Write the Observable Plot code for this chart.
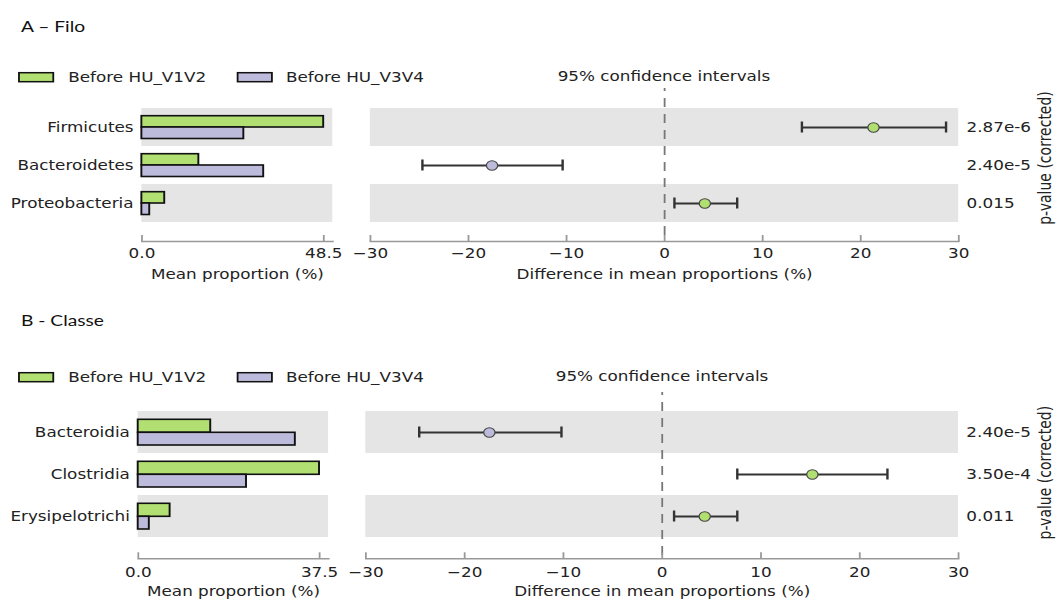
<!DOCTYPE html>
<html><head><meta charset="utf-8">
<script src="https://cdn.jsdelivr.net/npm/d3@7"></script>
<script src="https://cdn.jsdelivr.net/npm/@observablehq/plot@0.6"></script>
<style>
html,body{margin:0;padding:0;background:#fff;overflow:hidden;width:1056px;height:600px}
#stage{position:absolute;left:0;top:0;width:880px;height:600px;transform:scaleX(1.2);transform-origin:0 0;}
</style></head><body><div id="stage"></div>
<script>
// ---------- data ----------
const groups = ["Before HU_V1V2", "Before HU_V3V4"];
const groupColors = ["#b2df72", "#bdbbdb"];

const phyla = ["Firmicutes", "Bacteroidetes", "Proteobacteria"];
const phylaV1V2 = [48.5, 15.2, 6.1];
const phylaV3V4 = [27.2, 32.5, 2.1];
const phylaDiff = [21.3, -17.6, 4.1];
const phylaLow = [14.0, -24.7, 1.0];
const phylaHigh = [28.7, -10.4, 7.4];
const phylaP = ["2.87e-6", "2.40e-5", "0.015"];
const phylaTicks = [0, 48.5];

const classes = ["Bacteroidia", "Clostridia", "Erysipelotrichi"];
const classV1V2 = [15.0, 37.5, 6.6];
const classV3V4 = [32.5, 22.4, 2.3];
const classDiff = [-17.5, 15.2, 4.3];
const classLow = [-24.6, 7.6, 1.2];
const classHigh = [-10.2, 22.8, 7.6];
const classP = ["2.40e-5", "3.50e-4", "0.011"];
const classTicks = [0, 37.5];

const ciTicks = [-30, -20, -10, 0, 10, 20, 30];
const panelTitles = ["A \u2013 Filo", "B - Classe"];
const ciTitle = "95% confidence intervals";
const barAxisLabel = "Mean proportion (%)";
const ciAxisLabel = "Difference in mean proportions (%)";
const pAxisLabel = "p-value (corrected)";

// ---------- layout (unscaled px; stage is stretched 1.2x horizontally) ----------
const panels = [
  {title: panelTitles[0], cats: phyla, a: phylaV1V2, b: phylaV3V4, diff: phylaDiff, lo: phylaLow, hi: phylaHigh, p: phylaP, ticks: phylaTicks,
   L: {titleY: 32, legendY: 81.7, swatchY: 72.7, ciTitleX: 553.3, ciTitleY: 80.7,
       bar: {top: 100, height: 185, left: 117.8, right: 276.9, rows: [8, 122], axis: 141, pad: 7, lab: 37, insA: [7.7, 19], insB: [19, 7.5]},
       ci: {top: 60, height: 225, left: 8.2, right: 498.5, mtop: 28, rows: [48, 162], axis: 181, pad: 7, lab: 37, cap: 13.5, pdy: -7}}},
  {title: panelTitles[1], cats: classes, a: classV1V2, b: classV3V4, diff: classDiff, lo: classLow, hi: classHigh, p: classP, ticks: classTicks,
   L: {titleY: 326, legendY: 381.7, swatchY: 372.7, ciTitleX: 551.7, ciTitleY: 381,
       bar: {top: 400, height: 200, left: 114.75, right: 273.4, rows: [11, 137], axis: 158.3, pad: 8.4, lab: 37, insA: [8.3, 20.7], insB: [21.3, 8]},
       ci: {top: 360, height: 240, left: 4.4, right: 498.3, mtop: 32, rows: [51, 177], axis: 198.3, pad: 8.4, lab: 37, cap: 15.5, pdy: -3}}}
];

const stage = document.getElementById("stage");
const overlay = d3.select(stage).append("svg")
  .attr("width", 880).attr("height", 600)
  .style("position", "absolute").style("left", "0px").style("top", "0px")
  .style("font-family", "'DejaVu Sans', sans-serif").style("font-size", "14px");

function place(node, left, top) {
  node.style.position = "absolute";
  node.style.left = left + "px";
  node.style.top = top + "px";
  node.style.maxWidth = "none";
  node.style.overflow = "visible";
  stage.appendChild(node);
}

const W_BAR = 290, W_CI = 580;
const baseStyle = {fontFamily: "'DejaVu Sans', sans-serif", fontSize: "14px", color: "#222", background: "transparent", overflow: "visible"};

for (const P of panels) {
  const L = P.L;
  // headings
  overlay.append("text").attr("x", 17.5).attr("y", L.titleY).attr("fill", "#111")
    .style("font-family", "Lato, 'Open Sans', sans-serif").style("font-size", "16px").text(P.title);
  const swX = [15.8, 198], txX = [56.9, 238.3];
  groups.forEach((g, i) => {
    overlay.append("rect").attr("x", swX[i]).attr("y", L.swatchY).attr("width", 28.6).attr("height", 9)
      .attr("fill", groupColors[i]).attr("stroke", "#111").attr("stroke-width", 1.5);
    overlay.append("text").attr("x", txX[i]).attr("y", L.legendY).attr("fill", "#222").text(g);
  });
  overlay.append("text").attr("x", L.ciTitleX).attr("y", L.ciTitleY).attr("fill", "#222")
    .attr("text-anchor", "middle").text(ciTitle);

  const rows = P.cats.map((c, i) => ({cat: c, a: P.a[i], b: P.b[i], diff: P.diff[i], lo: P.lo[i], hi: P.hi[i], p: P.p[i]}));
  const shaded = rows.filter((d, i) => i % 2 === 0);
  const pmap = new Map(rows.map(d => [d.cat, d.p]));
  const xmax = d3.max([...P.a, ...P.b]) * 1.05;

  // ---- bar chart of mean proportions ----
  const B = L.bar;
  const barFrameH = B.axis - B.rows[0];
  const bar = Plot.plot({
    width: W_BAR, height: B.height,
    marginLeft: B.left, marginRight: W_BAR - B.right, marginTop: B.rows[0], marginBottom: B.height - B.axis,
    style: baseStyle,
    x: {domain: [0, xmax]},
    y: {domain: P.cats, range: B.rows, padding: 0},
    marks: [
      Plot.barX(shaded, {y: "cat", x1: 0, x2: xmax, fill: "#e5e5e5"}),
      Plot.barX(rows, {y: "cat", x: "a", fill: groupColors[0], stroke: "#111", strokeWidth: 1.6, insetTop: B.insA[0], insetBottom: B.insA[1]}),
      Plot.barX(rows, {y: "cat", x: "b", fill: groupColors[1], stroke: "#111", strokeWidth: 1.6, insetTop: B.insB[0], insetBottom: B.insB[1]}),
      Plot.axisY({tickSize: 0, tickPadding: 7, label: null, fill: "#222"}),
      Plot.axisX({ticks: P.ticks, tickFormat: d3.format(".1f"), tickSize: 0, tickPadding: B.pad, fill: "#222",
                  label: barAxisLabel, labelAnchor: "center", labelArrow: "none", labelOffset: B.lab}),
      Plot.tickX(P.ticks, {x: d => d, stroke: "#999", strokeWidth: 1.5, insetTop: barFrameH - 6}),
      Plot.frame({anchor: "bottom", stroke: "#999", strokeWidth: 1.5})
    ]
  });
  place(bar, 0, B.top);

  // ---- confidence-interval chart ----
  const C = L.ci;
  const ciFrameH = C.axis - C.mtop;
  const ci = Plot.plot({
    width: W_CI, height: C.height,
    marginLeft: C.left, marginRight: W_CI - C.right, marginTop: C.mtop, marginBottom: C.height - C.axis,
    style: baseStyle,
    x: {domain: [ciTicks[0], ciTicks[ciTicks.length - 1]]},
    y: {domain: P.cats, range: C.rows, padding: 0},
    color: {domain: groups, range: groupColors},
    marks: [
      Plot.barX(shaded, {y: "cat", x1: ciTicks[0], x2: ciTicks[ciTicks.length - 1], fill: "#e5e5e5"}),
      Plot.ruleX([0], {stroke: "#777", strokeWidth: 1.5, strokeDasharray: "9,7", strokeDashoffset: 6}),
      Plot.ruleY(rows, {y: "cat", x1: "lo", x2: "hi", stroke: "#333", strokeWidth: 2}),
      Plot.tickX(rows, {x: "lo", y: "cat", stroke: "#333", strokeWidth: 2, inset: C.cap}),
      Plot.tickX(rows, {x: "hi", y: "cat", stroke: "#333", strokeWidth: 2, inset: C.cap}),
      Plot.dot(rows, {x: "diff", y: "cat", r: 4.7, fill: d => (d.diff > 0 ? groups[0] : groups[1]), stroke: "#444", strokeWidth: 1}),
      Plot.axisX({ticks: ciTicks, tickFormat: d3.format("d"), tickSize: 0, tickPadding: C.pad, fill: "#222",
                  label: ciAxisLabel, labelAnchor: "center", labelArrow: "none", labelOffset: C.lab}),
      Plot.tickX(ciTicks, {x: d => d, stroke: "#999", strokeWidth: 1.5, insetTop: ciFrameH - 6}),
      Plot.frame({anchor: "bottom", stroke: "#999", strokeWidth: 1.5}),
      Plot.axisY({anchor: "right", tickSize: 0, tickPadding: 6.5, tickFormat: c => pmap.get(c), label: null, fill: "#222"}),
      Plot.text([pAxisLabel], {text: d => d, frameAnchor: "right", rotate: -90, dx: 77, dy: C.pdy, textAnchor: "middle", lineAnchor: "bottom", fill: "#222"})
    ]
  });
  place(ci, 300, C.top);
}
</script></body></html>
